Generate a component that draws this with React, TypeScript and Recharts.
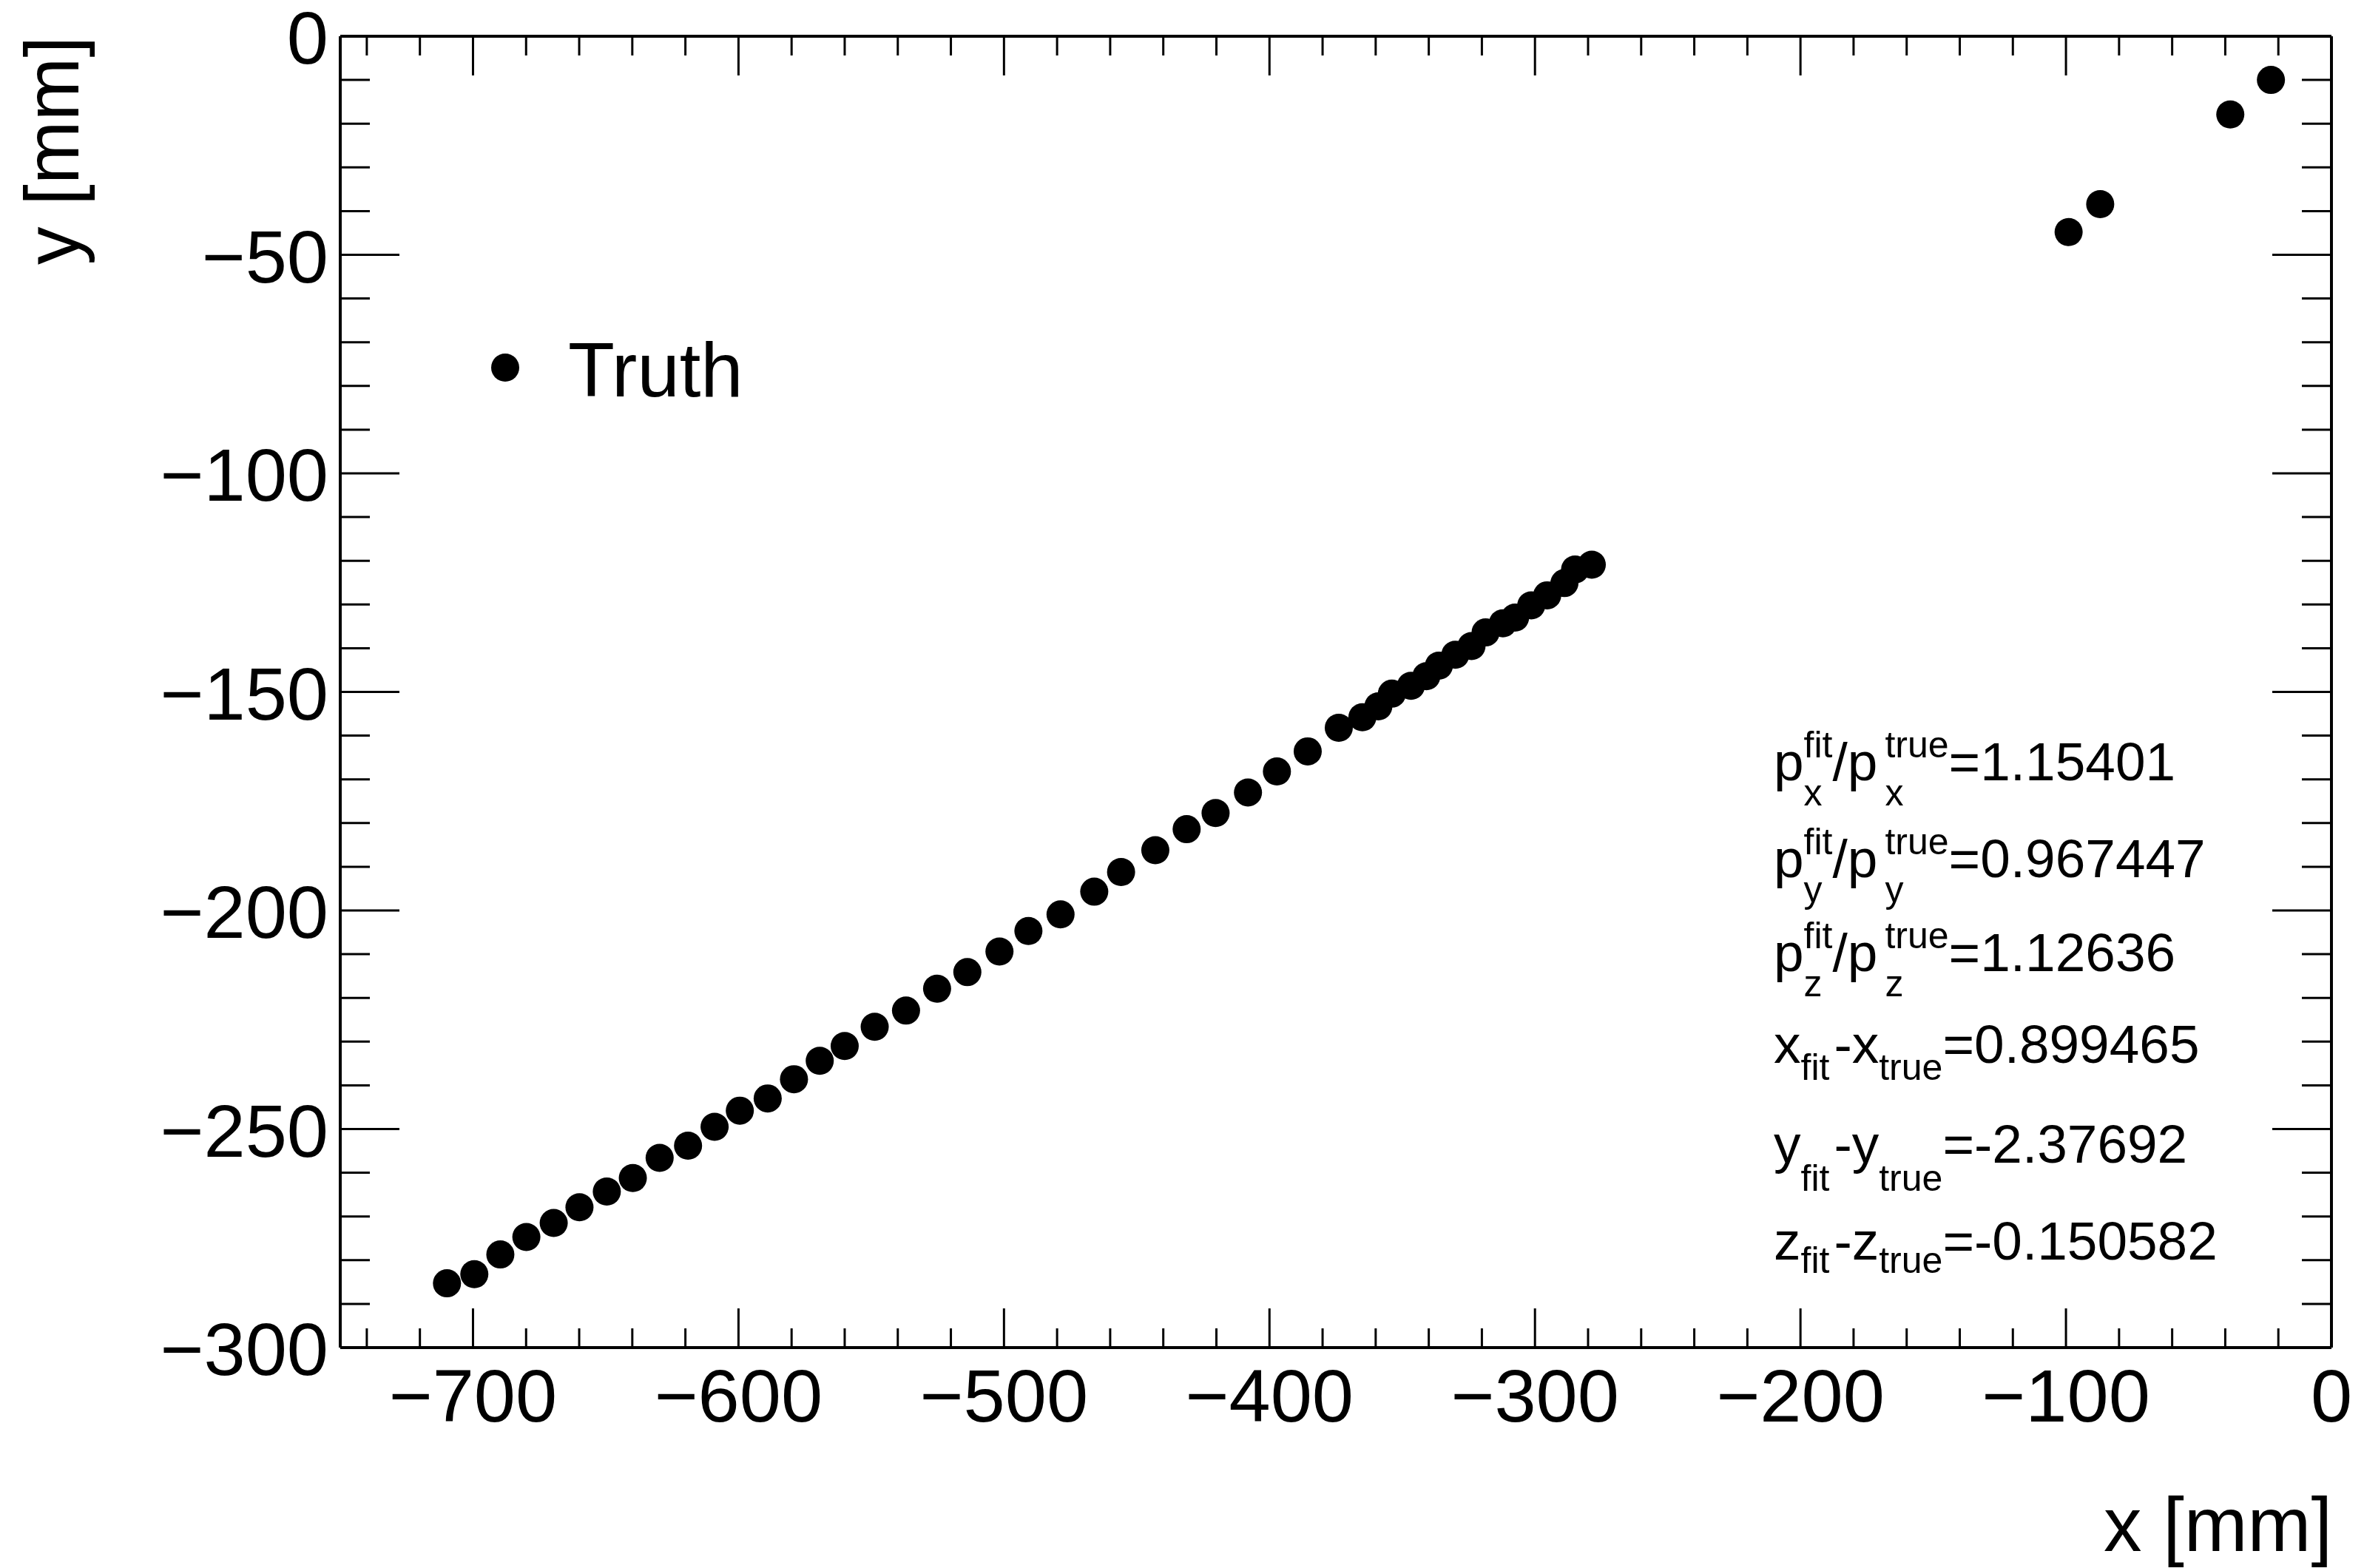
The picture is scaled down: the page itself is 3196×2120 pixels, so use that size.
import { ScatterChart, Scatter, XAxis, YAxis } from 'recharts';

const truthX = [
  -709.8, -699.5, -689.7, -679.9, -669.6, -659.9, -649.6, -639.8, -629.7, -619.0, -609.0, -599.5, -589.0,
  -579.1, -569.4, -560.0, -548.7, -536.9, -525.2, -513.8, -501.7, -490.8, -478.7, -466.0, -455.9,
  -443.0, -431.2, -420.3, -408.1, -397.2, -385.6, -373.9, -365.0, -359.0, -353.9, -346.7,
  -340.9, -336.2, -330.0, -323.9, -318.6, -312.1, -307.5, -301.4, -295.4, -288.9, -284.9, -278.6,
  -99.0, -87.1, -38.1, -22.8,
];
const truthY = [
  -285.3, -283.2, -278.7, -274.7, -271.5, -267.9, -264.3, -261.2, -256.6, -253.8, -249.5, -245.8, -243.0,
  -238.6, -234.4, -231.0, -226.6, -222.9, -217.9, -214.1, -209.4, -204.7, -200.9, -195.7, -191.2,
  -186.2, -181.4, -177.7, -173.0, -168.2, -163.6, -158.2, -155.8, -153.3, -150.4, -148.6,
  -146.4, -144.0, -141.5, -139.5, -136.4, -134.3, -133.0, -130.2, -127.9, -125.1, -122.0, -120.9,
  -44.8, -38.4, -17.9, -10.0,
];

const xTicks = [
  -740, -720, -700, -680, -660, -640, -620, -600, -580, -560, -540, -520, -500, -480, -460, -440, -420,
  -400, -380, -360, -340, -320, -300, -280, -260, -240, -220, -200, -180, -160, -140, -120, -100, -80,
  -60, -40, -20, 0,
];
const xMajor = [-700, -600, -500, -400, -300, -200, -100, 0];
const yTicks = [
  -300, -290, -280, -270, -260, -250, -240, -230, -220, -210, -200, -190, -180, -170, -160, -150, -140,
  -130, -120, -110, -100, -90, -80, -70, -60, -50, -40, -30, -20, -10, 0,
];
const yMajor = [-300, -250, -200, -150, -100, -50, 0];

const momentumLabels = ['x', 'y', 'z'];
const momentumRatios = ['1.15401', '0.967447', '1.12636'];
const positionLabels = ['x', 'y', 'z'];
const positionDiffs = ['0.899465', '-2.37692', '-0.150582'];

const FONT = '"Liberation Sans", Arial, Helvetica, sans-serif';
const W = 3196;
const H = 2120;

const data = truthX.map((x, i) => ({ x, y: truthY[i] }));

function fmt(v: number): string {
  return v < 0 ? '\u2212' + Math.abs(v) : String(v);
}

function XTick(props: any) {
  const { x, y, payload, side } = props;
  const major = xMajor.includes(payload.value);
  const len = major ? 53 : 26;
  const dir = side === 'bottom' ? -1 : 1;
  return (
    <g>
      <line x1={x} x2={x} y1={y} y2={y + dir * len} stroke="#000" strokeWidth={3} />
      {side === 'bottom' && major && (
        <text x={x} y={y + 100} textAnchor="middle" fontSize={101} fontFamily={FONT} fill="#000">
          {fmt(payload.value)}
        </text>
      )}
    </g>
  );
}

function YTick(props: any) {
  const { x, y, payload, side } = props;
  const major = yMajor.includes(payload.value);
  const len = major ? 80 : 40;
  const dir = side === 'left' ? 1 : -1;
  return (
    <g>
      <line x1={x} x2={x + dir * len} y1={y} y2={y} stroke="#000" strokeWidth={3} />
      {side === 'left' && major && (
        <text x={x - 16} y={y + 37} textAnchor="end" fontSize={101} fontFamily={FONT} fill="#000">
          {fmt(payload.value)}
        </text>
      )}
    </g>
  );
}

function Dot(props: any) {
  const { cx, cy } = props;
  if (cx == null || cy == null) return null;
  return <circle cx={cx} cy={cy} r={19} fill="#000" />;
}

function StatsBox() {
  const bases = [1055, 1186, 1313, 1437, 1572, 1703];
  const posSub = [23, 38, 18];
  return (
    <g fontFamily={FONT} fill="#000">
      {momentumLabels.map((c, i) => (
        <text key={'p' + c} x={2398} y={bases[i]} fontSize={73}>
          p
          <tspan fontSize={50} dy={34}>{c}</tspan>
          <tspan fontSize={50} dx={-25} dy={-65}>fit</tspan>
          <tspan fontSize={73} dy={31}>/p</tspan>
          <tspan fontSize={50} dx={10} dy={34}>{c}</tspan>
          <tspan fontSize={50} dx={-25} dy={-65}>true</tspan>
          <tspan fontSize={73} dy={31}>={momentumRatios[i]}</tspan>
        </text>
      ))}
      {positionLabels.map((c, i) => (
        <text key={'d' + c} x={2398} y={bases[i + 3]} fontSize={73}>
          {c}
          <tspan fontSize={50} dy={posSub[i]}>fit</tspan>
          <tspan fontSize={73} dx={6} dy={-posSub[i]}>-{c}</tspan>
          <tspan fontSize={50} dy={posSub[i]}>true</tspan>
          <tspan fontSize={73} dy={-posSub[i]}>={positionDiffs[i]}</tspan>
        </text>
      ))}
    </g>
  );
}

function LegendBox() {
  return (
    <g fontFamily={FONT} fill="#000">
      <circle cx={683} cy={497} r={19} fill="#000" />
      <text x={768} y={536} fontSize={103}>Truth</text>
    </g>
  );
}

export default function App() {
  return (
    <div style={{ width: W, height: H, background: '#fff' }}>
      <style>{'body{margin:0;background:#fff}'}</style>
      <ScatterChart width={W} height={H} margin={{ top: 48, right: 43, left: 0, bottom: 0 }}>
        <XAxis
          xAxisId="bottom"
          type="number"
          dataKey="x"
          domain={[-750, 0]}
          allowDataOverflow
          ticks={xTicks}
          interval={0}
          height={298}
          tickSize={0}
          tickMargin={0}
          tickLine={false}
          axisLine={{ stroke: '#000', strokeWidth: 4 }}
          tick={(p: any) => <XTick {...p} side="bottom" />}
          label={{
            content: (p: any) => {
              const vb = p.viewBox;
              return (
                <text x={vb.x + vb.width + 1} y={2097} textAnchor="end" fontSize={103} fontFamily={FONT} fill="#000">
                  x [mm]
                </text>
              );
            },
          }}
        />
        <XAxis
          xAxisId="top"
          orientation="top"
          type="number"
          dataKey="x"
          domain={[-750, 0]}
          allowDataOverflow
          ticks={xTicks}
          interval={0}
          height={1}
          tickSize={0}
          tickMargin={0}
          tickLine={false}
          axisLine={{ stroke: '#000', strokeWidth: 4 }}
          tick={(p: any) => <XTick {...p} side="top" />}
        />
        <YAxis
          yAxisId="left"
          type="number"
          dataKey="y"
          domain={[-300, 0]}
          allowDataOverflow
          ticks={yTicks}
          interval={0}
          width={460}
          tickSize={0}
          tickMargin={0}
          tickLine={false}
          axisLine={{ stroke: '#000', strokeWidth: 4 }}
          tick={(p: any) => <YTick {...p} side="left" />}
          label={{
            content: (p: any) => {
              const vb = p.viewBox;
              return (
                <text
                  transform="rotate(-90)"
                  x={-vb.y}
                  y={106}
                  textAnchor="end"
                  fontSize={103}
                  fontFamily={FONT}
                  fill="#000"
                >
                  y [mm]
                </text>
              );
            },
          }}
        />
        <YAxis
          yAxisId="right"
          orientation="right"
          type="number"
          dataKey="y"
          domain={[-300, 0]}
          allowDataOverflow
          ticks={yTicks}
          interval={0}
          width={1}
          tickSize={0}
          tickMargin={0}
          tickLine={false}
          axisLine={{ stroke: '#000', strokeWidth: 4 }}
          tick={(p: any) => <YTick {...p} side="right" />}
        />
        <Scatter
          name="Truth"
          data={data}
          xAxisId="bottom"
          yAxisId="left"
          fill="#000"
          shape={(p: any) => <Dot {...p} />}
          isAnimationActive={false}
        />
        {/* frame partner: binds the mirrored top/right axes, draws nothing */}
        <Scatter
          data={data}
          xAxisId="top"
          yAxisId="right"
          shape={() => <g />}
          isAnimationActive={false}
        />
        <LegendBox />
        <StatsBox />
      </ScatterChart>
    </div>
  );
}
